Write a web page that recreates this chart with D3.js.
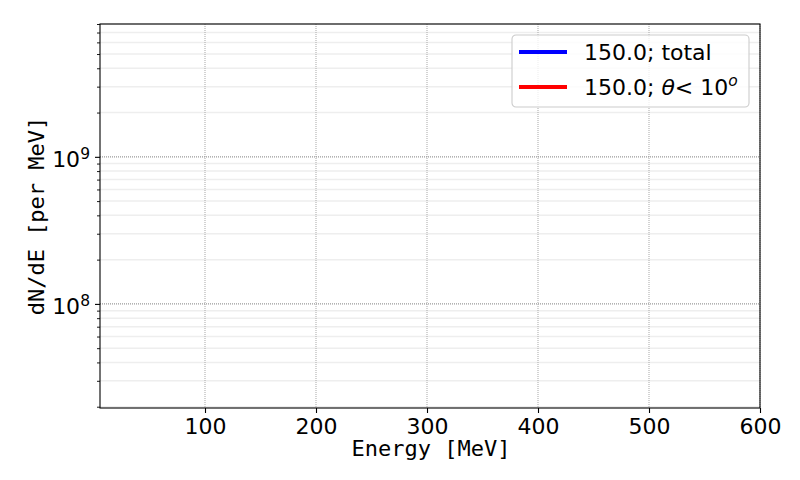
<!DOCTYPE html>
<html>
<head>
<meta charset="utf-8">
<script src="https://cdn.jsdelivr.net/npm/d3@7"></script>
<style>
  body { margin: 0; background: #fff; }
  svg { display: block; }
</style>
</head>
<body>
<div id="chart"></div>
<script>
// Axis limits
const xLimits = [5.4, 600];
const yLimits = [1.96e7, 8.0e9];
const xTickValues = [100, 200, 300, 400, 500, 600];
const yMajorTicks = [1e8, 1e9];

// Series (nothing lands inside the visible window in the reference)
const seriesNames = ["150.0; total", "150.0; θ< 10o"];
const seriesColors = ["#0000ff", "#ff0000"];
const totalEnergy = [];
const totalCounts = [];
const coneEnergy = [];
const coneCounts = [];

// Dimensions
const width = 800;
const height = 480;
const margin = { top: 24, right: 40, bottom: 72, left: 100 };
const innerWidth = width - margin.left - margin.right;
const innerHeight = height - margin.top - margin.bottom;

const svg = d3.select("#chart")
    .append("svg")
    .attr("width", width)
    .attr("height", height);

const gRoot = svg.append("g")
    .attr("transform", `translate(${margin.left}, ${margin.top})`);

// Scales
const xScale = d3.scaleLinear()
    .domain(xLimits)
    .range([0, innerWidth]);

const yScale = d3.scaleLog()
    .domain(yLimits)
    .range([innerHeight, 0]);

const yMinorTicks = yScale.ticks()
    .filter(v => !yMajorTicks.includes(v) && v >= yLimits[0] && v <= yLimits[1]);

// Grid: minor y first (light), then major dotted lines
const gGrid = gRoot.append("g").attr("class", "grid");

gGrid.selectAll("line.minor-y")
    .data(yMinorTicks)
    .join("line")
    .attr("class", "minor-y")
    .attr("x1", 0)
    .attr("x2", innerWidth)
    .attr("y1", d => yScale(d))
    .attr("y2", d => yScale(d))
    .attr("stroke", "#eeeeee")
    .attr("stroke-width", 1.5);

gGrid.selectAll("line.major-x")
    .data(xTickValues)
    .join("line")
    .attr("class", "major-x")
    .attr("x1", d => xScale(d))
    .attr("x2", d => xScale(d))
    .attr("y1", 0)
    .attr("y2", innerHeight)
    .attr("stroke", "#b0b0b0")
    .attr("stroke-width", 1.1)
    .attr("stroke-dasharray", "1,1");

gGrid.selectAll("line.major-y")
    .data(yMajorTicks)
    .join("line")
    .attr("class", "major-y")
    .attr("x1", 0)
    .attr("x2", innerWidth)
    .attr("y1", d => yScale(d))
    .attr("y2", d => yScale(d))
    .attr("stroke", "#999999")
    .attr("stroke-width", 1.1)
    .attr("stroke-dasharray", "1,1");

// Lines
const line = d3.line()
    .x(d => xScale(d[0]))
    .y(d => yScale(d[1]));

const seriesData = [
    d3.zip(totalEnergy, totalCounts),
    d3.zip(coneEnergy, coneCounts)
];

gRoot.append("g").attr("class", "chart")
    .selectAll("path.line")
    .data(seriesData)
    .join("path")
    .attr("class", "line")
    .attr("fill", "none")
    .attr("stroke", (d, i) => seriesColors[i])
    .attr("stroke-width", 2)
    .attr("d", line);

// Frame
gRoot.append("rect")
    .attr("width", innerWidth)
    .attr("height", innerHeight)
    .attr("fill", "none")
    .attr("stroke", "#000")
    .attr("stroke-width", 1.1);

// X axis
const gXAxis = gRoot.append("g")
    .attr("class", "axis-x")
    .attr("transform", `translate(0, ${innerHeight})`)
    .call(d3.axisBottom(xScale)
        .tickValues(xTickValues)
        .tickFormat(d3.format("d"))
        .tickSize(5)
        .tickPadding(5));
gXAxis.select(".domain").remove();
gXAxis.selectAll("line").attr("stroke", "#000").attr("stroke-width", 1.1);
gXAxis.selectAll("text")
    .attr("fill", "#000")
    .attr("font-family", "DejaVu Sans")
    .attr("font-size", 22);

// Y axis: minor ticks
const gYMinor = gRoot.append("g")
    .attr("class", "axis-y-minor")
    .call(d3.axisLeft(yScale)
        .tickValues(yMinorTicks)
        .tickFormat("")
        .tickSize(3));
gYMinor.select(".domain").remove();
gYMinor.selectAll("line").attr("stroke", "#000").attr("stroke-width", 0.9);

// Y axis: major ticks with 10^n labels
const gYAxis = gRoot.append("g")
    .attr("class", "axis-y")
    .call(d3.axisLeft(yScale)
        .tickValues(yMajorTicks)
        .tickFormat("")
        .tickSize(5));
gYAxis.select(".domain").remove();
gYAxis.selectAll("line").attr("stroke", "#000").attr("stroke-width", 1.1);

const yLabels = gYAxis.selectAll("g.tick")
    .append("text")
    .attr("x", -10)
    .attr("y", 9.5)
    .attr("text-anchor", "end")
    .attr("fill", "#000")
    .attr("font-family", "DejaVu Sans")
    .attr("font-size", 22);
yLabels.append("tspan").text("10");
yLabels.append("tspan")
    .attr("dy", -7.5)
    .attr("font-size", 15.5)
    .text(d => Math.round(Math.log10(d)));

// Axis labels
svg.append("text")
    .attr("x", margin.left + xScale(300) + 4)
    .attr("y", 456)
    .attr("text-anchor", "middle")
    .attr("font-family", "DejaVu Sans Mono")
    .attr("font-size", 22)
    .text("Energy [MeV]");

svg.append("text")
    .attr("transform", `translate(44, ${margin.top + innerHeight / 2}) rotate(-90)`)
    .attr("text-anchor", "middle")
    .attr("font-family", "DejaVu Sans Mono")
    .attr("font-size", 22)
    .text("dN/dE [per MeV]");

// Legend
const gLegend = svg.append("g")
    .attr("class", "legend")
    .attr("transform", "translate(512, 35)");

gLegend.append("rect")
    .attr("width", 237)
    .attr("height", 72)
    .attr("rx", 4)
    .attr("fill", "#fff")
    .attr("fill-opacity", 0.8)
    .attr("stroke", "#cccccc")
    .attr("stroke-width", 1.1);

const rows = gLegend.selectAll("g.row")
    .data(seriesNames)
    .join("g")
    .attr("class", "row")
    .attr("transform", (d, i) => `translate(0, ${17 + i * 35})`);

rows.append("line")
    .attr("x1", 7)
    .attr("x2", 55)
    .attr("stroke", (d, i) => seriesColors[i])
    .attr("stroke-width", 4);

const labels = rows.append("text")
    .attr("x", 72)
    .attr("y", 8)
    .attr("font-family", "DejaVu Sans")
    .attr("font-size", 22)
    .attr("fill", "#000");

labels.filter((d, i) => i === 0).text(d => d);

const coneLabel = labels.filter((d, i) => i === 1);
coneLabel.append("tspan").text("150.0; ");
coneLabel.append("tspan").attr("font-style", "italic").text("θ");
coneLabel.append("tspan").text("< 10");
coneLabel.append("tspan")
    .attr("dy", -9)
    .attr("font-size", 15.5)
    .attr("font-style", "italic")
    .text("o");
</script>
</body>
</html>
